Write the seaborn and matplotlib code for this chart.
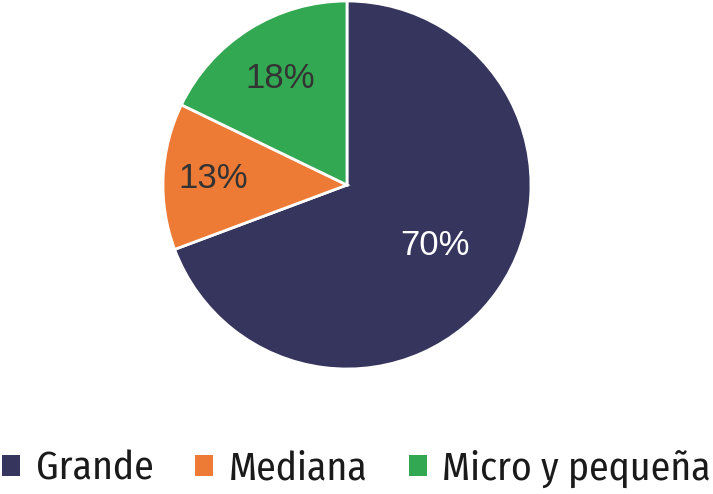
import numpy as np
import matplotlib
matplotlib.use("Agg")
import matplotlib.pyplot as plt
import seaborn as sns

sns.set_theme(style="white")
plt.rcParams['font.family'] = ['Liberation Sans', 'DejaVu Sans']

# data
categories = ['Grande', 'Mediana', 'Micro y pequeña']
shares = [70, 13, 18]
pct_labels = ['70%', '13%', '18%']
colors = ['#35355e', '#ee7b35', '#33a852']
label_colors = ['white', '#333333', '#333333']
label_dist = [0.58, 0.73, 0.68]

fig = plt.figure(figsize=(7.13, 4.94), dpi=100)
ax = fig.add_axes([163 / 713, 125 / 494, 368 / 713, 368 / 494])

wedges, _ = ax.pie(shares, colors=colors, startangle=90, counterclock=False,
                   wedgeprops={'edgecolor': 'white', 'linewidth': 2})
ax.set_xlim(-1, 1)
ax.set_ylim(-1, 1)
ax.set_aspect('equal')

for w, lab, c, r in zip(wedges, pct_labels, label_colors, label_dist):
    mid = np.deg2rad((w.theta1 + w.theta2) / 2)
    ax.text(r * np.cos(mid), r * np.sin(mid), lab, color=c, fontsize=25,
            ha='center', va='center')

leg = fig.legend(wedges, categories, loc='lower center', ncol=3,
                 bbox_to_anchor=(0.5, -0.004), frameon=False,
                 prop={'family': ['Fira Sans Condensed', 'DejaVu Sans'], 'size': 28.5},
                 labelcolor='#1a1a1a', borderaxespad=0, borderpad=0.2,
                 handlelength=0.45, handleheight=0.45, handletextpad=0.4,
                 columnspacing=1.05)
for h in leg.legend_handles:
    h.set_edgecolor('none')

fig.savefig('out.png', dpi=100)
